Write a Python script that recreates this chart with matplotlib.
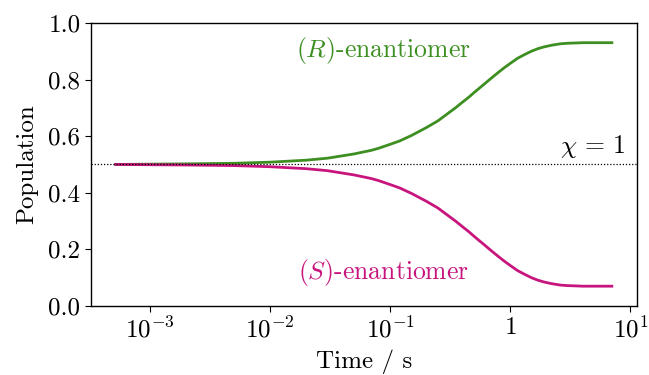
import matplotlib
matplotlib.use("Agg")
import matplotlib.pyplot as plt

plt.rcParams['font.family'] = 'serif'
plt.rcParams['font.serif'] = ['cmr10']
plt.rcParams['mathtext.fontset'] = 'cm'
plt.rcParams['axes.formatter.use_mathtext'] = True
plt.rcParams['axes.unicode_minus'] = False

# time (s)
time_s = [5.2e-4, 1e-3, 2e-3, 5e-3, 1e-2, 2e-2, 3e-2, 5e-2, 7e-2, 8e-2, 0.1, 0.12, 0.15,
          0.2, 0.25, 0.3, 0.35, 0.4, 0.45, 0.5, 0.6, 0.7, 0.8, 0.9, 1.0, 1.15, 1.3,
          1.5, 1.7, 1.9, 2.2, 2.6, 3.0, 3.5, 4.0, 5.5, 7.0]
pop_R = [0.500, 0.501, 0.502, 0.504, 0.508, 0.515, 0.522, 0.537, 0.550, 0.557, 0.571, 0.583, 0.602,
         0.630, 0.654, 0.679, 0.700, 0.720, 0.737, 0.754, 0.782, 0.806, 0.826, 0.843, 0.857, 0.875, 0.887,
         0.900, 0.909, 0.915, 0.921, 0.926, 0.928, 0.929, 0.930, 0.930, 0.930]
pop_S = [0.500, 0.499, 0.498, 0.496, 0.492, 0.485, 0.478, 0.463, 0.450, 0.443, 0.429, 0.417, 0.398,
         0.370, 0.346, 0.321, 0.300, 0.280, 0.263, 0.246, 0.218, 0.194, 0.174, 0.157, 0.143, 0.125, 0.113,
         0.100, 0.091, 0.085, 0.079, 0.074, 0.072, 0.071, 0.070, 0.070, 0.070]

xticks = [1e-3, 1e-2, 1e-1, 1, 10]
xticklabels = [r'$10^{-3}$', r'$10^{-2}$', r'$10^{-1}$', r'$1$', r'$10^{1}$']
yticks = [0.0, 0.2, 0.4, 0.6, 0.8, 1.0]

col_R = '#3d8f22'
col_S = '#c8157e'

fig = plt.figure(figsize=(6.49, 3.75), dpi=100)
ax = fig.add_axes([0.140, 0.184, 0.841, 0.755])

ax.plot(time_s, pop_R, color=col_R, lw=2.0)
ax.plot(time_s, pop_S, color=col_S, lw=2.0)
ax.axhline(0.5, color='black', ls=(0, (1, 1.5)), lw=0.9)

ax.set_xscale('log')
ax.set_ylim(0, 1)
ax.set_xticks(xticks)
ax.set_xticklabels(xticklabels)
ax.minorticks_off()
ax.set_yticks(yticks)
ax.set_yticklabels([f'{v:.1f}' for v in yticks])

ax.tick_params(labelsize=18, length=4, width=0.8)
for s in ax.spines.values():
    s.set_linewidth(1.0)

ax.set_xlabel('Time / s', fontsize=18, labelpad=5)
ax.set_ylabel('Population', fontsize=18, labelpad=7)

ax.text(0.088, 0.904, r'$(R)$-enantiomer', color=col_R, fontsize=18.5,
        ha='center', va='center')
ax.text(0.088, 0.12, r'$(S)$-enantiomer', color=col_S, fontsize=18.5,
        ha='center', va='center')
ax.text(9.1, 0.565, r'$\chi\,=\,1$', color='black', fontsize=18.5,
        ha='right', va='center')

fig.savefig('out.png', dpi=100)
